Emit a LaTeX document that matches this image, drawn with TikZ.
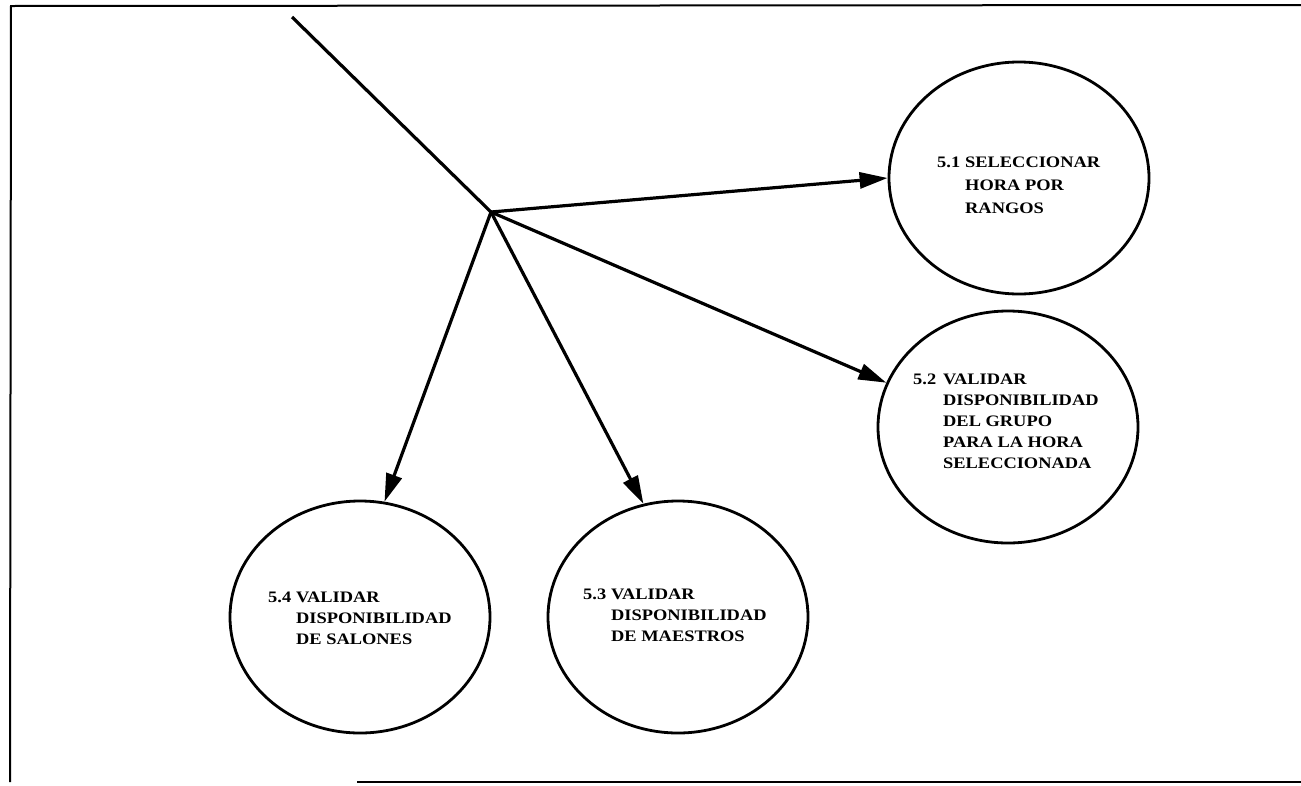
\documentclass[tikz,border=0pt]{standalone}
\usepackage{fontspec}
\setmainfont{Liberation Serif}[FakeStretch=1.15]
\usetikzlibrary{arrows.meta,shapes.geometric}

% two-column label: process number, then the indented description lines
\newcommand\bubbletext[2]{\begin{tabular}[t]{@{}p{#1}@{}l@{}}#2\end{tabular}}

\begin{document}
\begin{tikzpicture}[x=1pt,y=-1pt,
  proc/.style={draw, ellipse, line width=2.8pt, minimum width=260pt,
    minimum height=232pt, inner sep=0pt},
  flow/.style={line width=3.2pt, -{Triangle[length=28pt,width=16pt]}},
  frameline/.style={line width=2pt},
  lbl/.style={inner sep=0pt, anchor=base west,
    font=\bfseries\fontsize{16}{21}\selectfont},
]
\useasboundingbox (0,0) rectangle (1301,785);

% page frame
\draw[frameline] (1301,5) -- (11,6) -- (10,782);
\draw[frameline] (357,782) -- (1301,782);

% processes
\node[proc] (e51) at (1019,178) {};
\node[proc] (e52) at (1008,427) {};
\node[proc] (e53) at (678,617) {};
\node[proc] (e54) at (360,617) {};

% incoming flow and branch point
\coordinate (src) at (292,17);
\coordinate (hub) at (491,212);
\draw[line width=3.2pt] (src) -- (hub);

\draw[flow] (hub) -- (e51.180);
\draw[flow] (hub) -- (e52.160);
\draw[flow] (hub) -- (e53.107);
\draw[flow] (hub) -- (e54.78);

% labels
\node[lbl, font=\bfseries\fontsize{16}{23}\selectfont] (t51) at (937,167)
  {\bubbletext{28pt}{5.1 & SELECCIONAR\\ & HORA POR\\ & RANGOS}};
\node[lbl] (t52) at (913,384)
  {\bubbletext{30pt}{5.2 & VALIDAR\\ & DISPONIBILIDAD\\ & DEL GRUPO\\ & PARA LA HORA\\ & SELECCIONADA}};
\node[lbl] (t53) at (583,599)
  {\bubbletext{28pt}{5.3 & VALIDAR\\ & DISPONIBILIDAD\\ & DE MAESTROS}};
\node[lbl] (t54) at (268,602)
  {\bubbletext{28pt}{5.4 & VALIDAR\\ & DISPONIBILIDAD\\ & DE SALONES}};
\end{tikzpicture}
\end{document}
